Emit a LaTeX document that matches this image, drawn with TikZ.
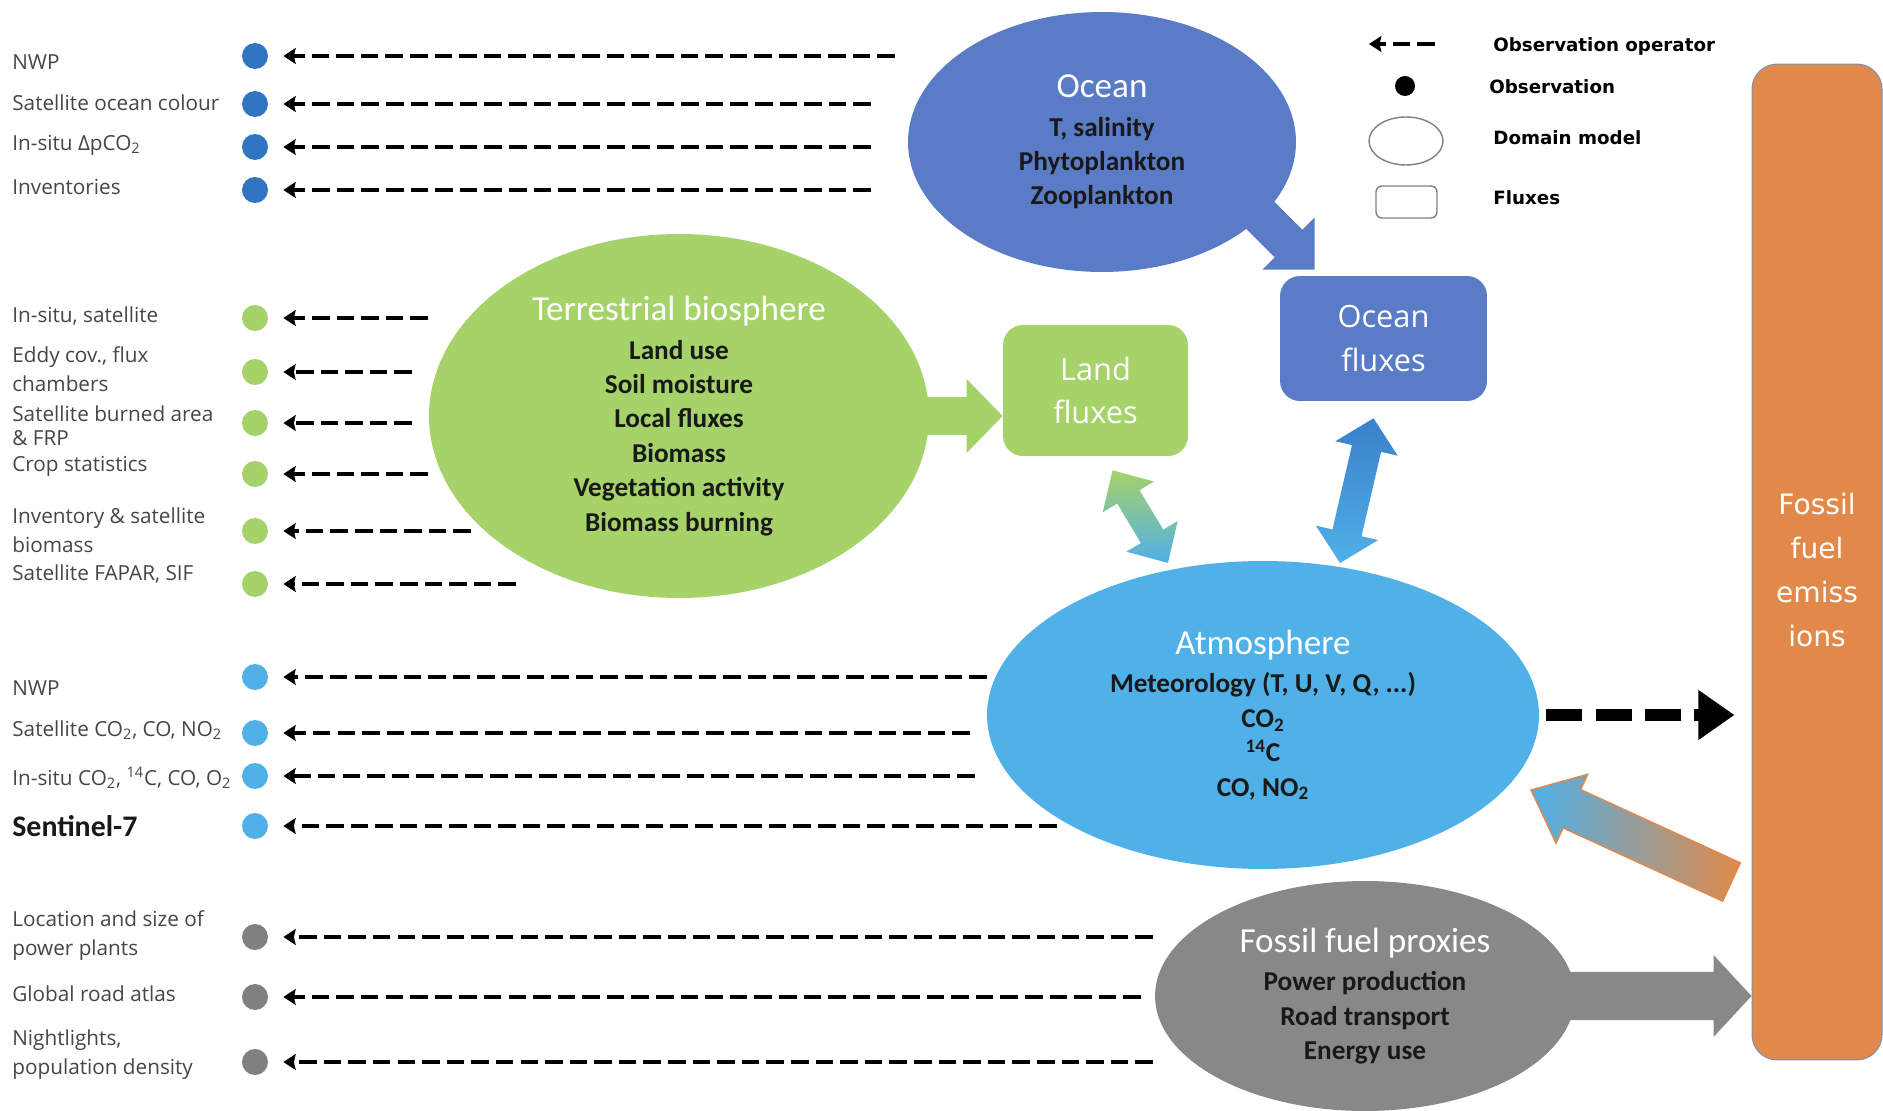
\documentclass[tikz,border=0pt]{standalone}
\usepackage{fontspec}
\setmainfont{Carlito}
\newfontfamily\obsfont{Open Sans}
\newfontfamily\legfont{DejaVu Sans}
\usetikzlibrary{arrows.meta,calc,shapes.geometric}

\definecolor{oceanblue}{RGB}{90,123,197}
\definecolor{obsblue}{RGB}{47,117,192}
\definecolor{landgreen}{RGB}{166,210,106}
\definecolor{atmoblue}{RGB}{80,176,232}
\definecolor{fluxblue}{RGB}{58,128,203}
\definecolor{proxygray}{RGB}{136,136,136}
\definecolor{dotgray}{RGB}{128,128,128}
\definecolor{fossilorange}{RGB}{224,137,74}
\definecolor{fossiledge}{RGB}{130,145,175}
\definecolor{labelgray}{RGB}{70,70,70}
\definecolor{bodyblack}{RGB}{25,25,25}

\tikzset{obs/.style={circle,inner sep=0pt,minimum size=0.52cm}}
\tikzset{obsop/.style={line width=2.6pt,dash pattern=on 10pt off 4pt,-{Stealth[length=7pt,width=9pt,inset=1pt]},shorten >=0.3cm}}
\tikzset{bigdash/.style={line width=6.8pt,dash pattern=on 20.5pt off 7.5pt,-{Triangle[length=20.5pt,width=27pt]},shorten <=0.14cm,shorten >=0.34cm}}
\tikzset{obslabel/.style={anchor=west,align=left,inner sep=0pt,text=labelgray,font=\obsfont\fontsize{11.8}{16.5}\selectfont}}
\tikzset{domainmodel/.style={ellipse,inner sep=0pt,align=center,text=bodyblack,font=\bfseries\fontsize{15.5}{19.6}\selectfont}}
\tikzset{fluxbox/.style={rectangle,rounded corners=0.4cm,inner sep=0pt,align=center,text=white,font=\obsfont\fontsize{17.5}{25}\selectfont}}
\tikzset{legtext/.style={anchor=west,inner sep=0pt,font=\legfont\bfseries\fontsize{10.4}{12}\selectfont}}

\newcommand{\domtitle}[1]{{\mdseries\fontsize{20}{24}\selectfont\color{white}#1}\\[2.3pt]}
\newcommand{\sentinel}{\rmfamily\bfseries\fontsize{17}{20}\selectfont\color{bodyblack}}

% tail, tip, shaft half width, head half width, head length, style
\newcommand{\blockarrow}[6]{%
  \path[#6] let \p1=(#1), \p2=(#2), \n1={atan2(\y2-\y1,\x2-\x1)}, \n2={veclen(\x2-\x1,\y2-\y1)} in
    [shift={(\p1)},rotate=\n1]
    (0pt,-#3) -- ({\n2-#5},-#3) -- ({\n2-#5},-#4) -- ({\n2*1pt},0pt) -- ({\n2-#5},#4) -- ({\n2-#5},#3) -- (0pt,#3) -- cycle;}
\newcommand{\dblarrow}[6]{%
  \path[#6] let \p1=(#1), \p2=(#2), \n1={atan2(\y2-\y1,\x2-\x1)}, \n2={veclen(\x2-\x1,\y2-\y1)} in
    [shift={(\p1)},rotate=\n1]
    (0pt,0pt) -- (#5,-#4) -- (#5,-#3) -- ({\n2-#5},-#3) -- ({\n2-#5},-#4) -- ({\n2*1pt},0pt)
    -- ({\n2-#5},#4) -- ({\n2-#5},#3) -- (#5,#3) -- (#5,#4) -- cycle;}

\begin{document}
\begin{tikzpicture}[x=0.02cm,y=-0.02cm]
	\useasboundingbox (0,0) rectangle (1883,1111);
	\fill[white] (0,0) rectangle (1883,1111);

	\foreach \dy/\ly/\ex/\txt [count=\i] in {56/62/895/{NWP},104/103/871/{Satellite ocean colour},
		147/145/871/{In-situ ΔpCO\textsubscript{2}},190/187/871/{Inventories}}{
		\node[obs,fill=obsblue] (ocn\i) at (255,\dy) {};
		\node[obslabel] (ocnl\i) at (12,\ly) {\txt};
		\coordinate (ocne\i) at (\ex,\dy);
		\draw[obsop] (ocne\i) -- (ocn\i);
	}
	\foreach \dy/\ly/\ex/\txt [count=\i] in {318/316/428/{In-situ, satellite},372/369.5/412/{Eddy cov., flux\\chambers},
		423/426/412/{Satellite burned area\\[-3pt]\& FRP},474/466/428/{Crop statistics},
		531/530.5/471/{Inventory \& satellite\\biomass},584/574/516/{Satellite FAPAR, SIF}}{
		\node[obs,fill=landgreen] (lnd\i) at (255,\dy) {};
		\node[obslabel] (lndl\i) at (12,\ly) {\txt};
		\coordinate (lnde\i) at (\ex,\dy);
		\draw[obsop] (lnde\i) -- (lnd\i);
	}
	\foreach \dy/\ly/\ex/\txt [count=\i] in {677/688/987/{NWP},733/730/970/{Satellite CO\textsubscript{2}, CO, NO\textsubscript{2}},
		776/778/975/{In-situ CO\textsubscript{2}, \textsuperscript{14}C, CO, O\textsubscript{2}},826/826/1057/{{\sentinel Sentinel-7}}}{
		\node[obs,fill=atmoblue] (atm\i) at (255,\dy) {};
		\node[obslabel] (atml\i) at (12,\ly) {\txt};
		\coordinate (atme\i) at (\ex,\dy);
		\draw[obsop] (atme\i) -- (atm\i);
	}
	\foreach \dy/\ly/\ex/\txt [count=\i] in {937/935.5/1153/{Location and size of\\power plants},
		997/994/1141/{Global road atlas},1062/1054.5/1153/{Nightlights,\\population density}}{
		\node[obs,fill=dotgray] (ffp\i) at (255,\dy) {};
		\node[obslabel] (ffpl\i) at (12,\ly) {\txt};
		\coordinate (ffpe\i) at (\ex,\dy);
		\draw[obsop] (ffpe\i) -- (ffp\i);
	}

	\node[domainmodel,fill=oceanblue,minimum width=7.76cm,minimum height=5.2cm] (ocean) at (1102,142)
		{\domtitle{Ocean}T, salinity\\Phytoplankton\\Zooplankton};
	\node[domainmodel,fill=landgreen,minimum width=10cm,minimum height=7.28cm] (terr) at (679,416)
		{\domtitle{Terrestrial biosphere}Land use\\Soil moisture\\Local fluxes\\Biomass\\Vegetation activity\\Biomass burning};
	\node[domainmodel,fill=atmoblue,minimum width=11.04cm,minimum height=6.16cm] (atmo) at (1263,715)
		{\domtitle{Atmosphere}Meteorology (T, U, V, Q, ...)\\CO\textsubscript{2}\\\textsuperscript{14}C\\CO, NO\textsubscript{2}};
	\node[domainmodel,fill=proxygray,minimum width=8.4cm,minimum height=4.6cm] (proxy) at (1365,996)
		{\domtitle{Fossil fuel proxies}Power production\\Road transport\\Energy use};
	\node[fluxbox,fill=landgreen,minimum width=3.7cm,minimum height=2.62cm] (landflux) at (1095.5,390.5) {Land\\fluxes};
	\node[fluxbox,fill=oceanblue,minimum width=4.14cm,minimum height=2.5cm] (oceanflux) at (1383.5,338.5) {Ocean\\fluxes};
	\node[rectangle,rounded corners=0.5cm,fill=fossilorange,draw=fossiledge,line width=0.6pt,minimum width=2.6cm,
		minimum height=19.92cm] (femis) at (1817,562) {};
	\node[align=center,text=white,font=\legfont\fontsize{16}{25}\selectfont] (femistxt) at ($(femis.center)+(0,8)$)
		{Fossil\\fuel\\emiss\\ions};

	\blockarrow{$(terr.east)+(-10,0)$}{landflux.west |- terr.east}{10.8pt}{21pt}{20.5pt}{fill=landgreen}
	\coordinate (oftip) at ($(oceanflux.north west)+(35,-6)$);
	\blockarrow{$(oftip)+(-75,-75)$}{oftip}{11.1pt}{21pt}{21pt}{fill=oceanblue}
	\blockarrow{$(proxy.east)+(-10,0)$}{femis.west |- proxy.east}{13.7pt}{23.3pt}{21.6pt}{fill=proxygray}
	\dblarrow{$(landflux.south)+(17,14)$}{$(atmo.center)+(-95,-152)$}{7.4pt}{17pt}{17.6pt}{top color=landgreen,bottom color=atmoblue}
	\dblarrow{$(oceanflux.south)+(-10,17)$}{$(atmo.center)+(77,-152)$}{8.5pt}{18.2pt}{17.6pt}{top color=fluxblue,bottom color=atmoblue}
	\blockarrow{$(femis.west)+(-20,320)$}{$(atmo.center)+(268,75)$}{12pt}{21.6pt}{25.6pt}{left color=atmoblue,right color=fossilorange,draw=fossilorange,line width=0.8pt}
	\draw[bigdash] (atmo.east) -- (femis.west |- atmo.east);

	\coordinate (lgs) at (1435,44);
	\coordinate (lge) at (1369,44);
	\draw[obsop,line width=2.2pt,shorten >=0pt] (lgs) -- (lge);
	\node[obs,fill=black,minimum size=0.4cm] (lgdot) at (1405,86) {};
	\node[ellipse,draw=gray,line width=0.8pt,minimum width=1.48cm,minimum height=0.96cm,inner sep=0pt] (lgell) at (1406,141) {};
	\node[rectangle,rounded corners=0.12cm,draw=gray,line width=0.8pt,minimum width=1.22cm,minimum height=0.64cm,inner sep=0pt] (lgbox) at (1406.5,202) {};
	\node[legtext] (lgt1) at (1493,46) {Observation operator};
	\node[legtext] (lgt2) at (1489,87) {Observation};
	\node[legtext] (lgt3) at (1493,138) {Domain model};
	\node[legtext] (lgt4) at (1493,198) {Fluxes};
\end{tikzpicture}
\end{document}
